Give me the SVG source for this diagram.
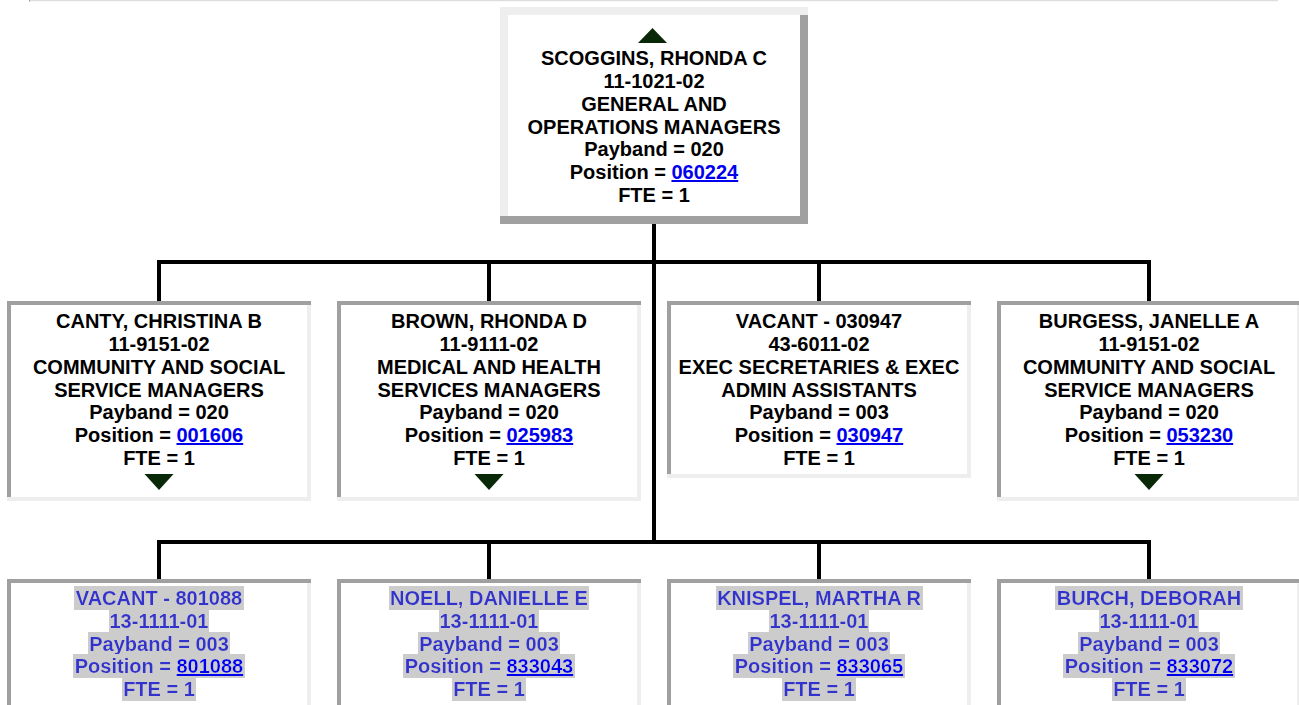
<svg xmlns="http://www.w3.org/2000/svg" width="1299" height="705" viewBox="0 0 1299 705">
<style>
text{font-family:"Liberation Sans",Arial,sans-serif;font-weight:bold;font-size:20px;text-anchor:middle;fill:#000}
.lk{fill:#0000ee;text-decoration:underline}
.sub text{fill:#3333cc}
.sub text .lk{fill:#0000ee}
.dk{fill:#a0a0a0}
.lt{fill:#eeeeee}
.tri{fill:#082808}
.conn{stroke:#000;stroke-width:4;fill:none}
</style>
<defs>
<filter id="hl" x="-0.005" y="-0.02" width="1.01" height="1.04">
<feFlood flood-color="#cccccc"/>
<feMerge><feMergeNode/><feMergeNode in="SourceGraphic"/></feMerge>
</filter>
</defs>
<rect width="1299" height="705" fill="#fff"/>
<rect x="29" y="0" width="1249" height="1.2" fill="#dddddd"/>
<rect x="29" y="0" width="1" height="1.5" fill="#999"/>

<g id="connectors" class="conn">
<line x1="654" y1="224" x2="654" y2="544"/>
<line x1="157" y1="262" x2="1151" y2="262"/>
<line x1="159" y1="262" x2="159" y2="301"/>
<line x1="489" y1="262" x2="489" y2="301"/>
<line x1="819" y1="262" x2="819" y2="301"/>
<line x1="1149" y1="262" x2="1149" y2="301"/>
<line x1="157" y1="542" x2="1151" y2="542"/>
<line x1="159" y1="542" x2="159" y2="579"/>
<line x1="489" y1="542" x2="489" y2="579"/>
<line x1="819" y1="542" x2="819" y2="579"/>
<line x1="1149" y1="542" x2="1149" y2="579"/>
</g>

<g id="node-scoggins">
<rect class="lt" x="500" y="7" width="308" height="217"/>
<rect class="dk" x="800" y="15" width="8" height="209"/>
<rect class="dk" x="500" y="216" width="308" height="8"/>
<rect fill="#fff" x="508" y="15" width="292" height="201"/>
<polygon class="tri" points="638,43 667,43 652.5,28"/>
<text x="654" y="65">SCOGGINS, RHONDA C</text>
<text x="654" y="88">11-1021-02</text>
<text x="654" y="111">GENERAL AND</text>
<text x="654" y="134">OPERATIONS MANAGERS</text>
<text x="654" y="156">Payband = 020</text>
<text x="654" y="179">Position = <tspan class="lk">060224</tspan></text>
<text x="654" y="202">FTE = 1</text>
</g>

<g id="node-canty">
<rect fill="#fff" x="7" y="301" width="304" height="200"/>
<rect class="dk" x="7" y="301" width="304" height="4"/>
<rect class="dk" x="7" y="301" width="4" height="196"/>
<rect class="lt" x="307" y="305" width="4" height="196"/>
<rect class="lt" x="7" y="497" width="304" height="4"/>
<text x="159" y="328">CANTY, CHRISTINA B</text>
<text x="159" y="351">11-9151-02</text>
<text x="159" y="374">COMMUNITY AND SOCIAL</text>
<text x="159" y="397">SERVICE MANAGERS</text>
<text x="159" y="419">Payband = 020</text>
<text x="159" y="442">Position = <tspan class="lk">001606</tspan></text>
<text x="159" y="465">FTE = 1</text>
<polygon class="tri" points="144.5,474 173.5,474 159,490"/>
</g>

<g id="node-brown">
<rect fill="#fff" x="337" y="301" width="304" height="200"/>
<rect class="dk" x="337" y="301" width="304" height="4"/>
<rect class="dk" x="337" y="301" width="4" height="196"/>
<rect class="lt" x="637" y="305" width="4" height="196"/>
<rect class="lt" x="337" y="497" width="304" height="4"/>
<text x="489" y="328">BROWN, RHONDA D</text>
<text x="489" y="351">11-9111-02</text>
<text x="489" y="374">MEDICAL AND HEALTH</text>
<text x="489" y="397">SERVICES MANAGERS</text>
<text x="489" y="419">Payband = 020</text>
<text x="489" y="442">Position = <tspan class="lk">025983</tspan></text>
<text x="489" y="465">FTE = 1</text>
<polygon class="tri" points="474.5,474 503.5,474 489,490"/>
</g>

<g id="node-vacant-030947">
<rect fill="#fff" x="667" y="301" width="304" height="177"/>
<rect class="dk" x="667" y="301" width="304" height="4"/>
<rect class="dk" x="667" y="301" width="4" height="173"/>
<rect class="lt" x="967" y="305" width="4" height="173"/>
<rect class="lt" x="667" y="474" width="304" height="4"/>
<text x="819" y="328">VACANT - 030947</text>
<text x="819" y="351">43-6011-02</text>
<text x="819" y="374">EXEC SECRETARIES &amp; EXEC</text>
<text x="819" y="397">ADMIN ASSISTANTS</text>
<text x="819" y="419">Payband = 003</text>
<text x="819" y="442">Position = <tspan class="lk">030947</tspan></text>
<text x="819" y="465">FTE = 1</text>
</g>

<g id="node-burgess">
<rect fill="#fff" x="997" y="301" width="304" height="200"/>
<rect class="dk" x="997" y="301" width="304" height="4"/>
<rect class="dk" x="997" y="301" width="4" height="196"/>
<rect class="lt" x="1297" y="305" width="4" height="196"/>
<rect class="lt" x="997" y="497" width="304" height="4"/>
<text x="1149" y="328">BURGESS, JANELLE A</text>
<text x="1149" y="351">11-9151-02</text>
<text x="1149" y="374">COMMUNITY AND SOCIAL</text>
<text x="1149" y="397">SERVICE MANAGERS</text>
<text x="1149" y="419">Payband = 020</text>
<text x="1149" y="442">Position = <tspan class="lk">053230</tspan></text>
<text x="1149" y="465">FTE = 1</text>
<polygon class="tri" points="1134.5,474 1163.5,474 1149,490"/>
</g>

<g id="node-vacant-801088" class="sub">
<rect fill="#fff" x="7" y="579" width="304" height="130"/>
<rect class="dk" x="7" y="579" width="304" height="4"/>
<rect class="dk" x="7" y="579" width="4" height="130"/>
<rect class="lt" x="307" y="583" width="4" height="126"/>
<text x="159" y="605" filter="url(#hl)">VACANT - 801088</text>
<text x="159" y="628" filter="url(#hl)">13-1111-01</text>
<text x="159" y="651" filter="url(#hl)">Payband = 003</text>
<text x="159" y="673" filter="url(#hl)">Position = <tspan class="lk">801088</tspan></text>
<text x="159" y="696" filter="url(#hl)">FTE = 1</text>
</g>

<g id="node-noell" class="sub">
<rect fill="#fff" x="337" y="579" width="304" height="130"/>
<rect class="dk" x="337" y="579" width="304" height="4"/>
<rect class="dk" x="337" y="579" width="4" height="130"/>
<rect class="lt" x="637" y="583" width="4" height="126"/>
<text x="489" y="605" filter="url(#hl)">NOELL, DANIELLE E</text>
<text x="489" y="628" filter="url(#hl)">13-1111-01</text>
<text x="489" y="651" filter="url(#hl)">Payband = 003</text>
<text x="489" y="673" filter="url(#hl)">Position = <tspan class="lk">833043</tspan></text>
<text x="489" y="696" filter="url(#hl)">FTE = 1</text>
</g>

<g id="node-knispel" class="sub">
<rect fill="#fff" x="667" y="579" width="304" height="130"/>
<rect class="dk" x="667" y="579" width="304" height="4"/>
<rect class="dk" x="667" y="579" width="4" height="130"/>
<rect class="lt" x="967" y="583" width="4" height="126"/>
<text x="819" y="605" filter="url(#hl)">KNISPEL, MARTHA R</text>
<text x="819" y="628" filter="url(#hl)">13-1111-01</text>
<text x="819" y="651" filter="url(#hl)">Payband = 003</text>
<text x="819" y="673" filter="url(#hl)">Position = <tspan class="lk">833065</tspan></text>
<text x="819" y="696" filter="url(#hl)">FTE = 1</text>
</g>

<g id="node-burch" class="sub">
<rect fill="#fff" x="997" y="579" width="304" height="130"/>
<rect class="dk" x="997" y="579" width="304" height="4"/>
<rect class="dk" x="997" y="579" width="4" height="130"/>
<rect class="lt" x="1297" y="583" width="4" height="126"/>
<text x="1149" y="605" filter="url(#hl)">BURCH, DEBORAH</text>
<text x="1149" y="628" filter="url(#hl)">13-1111-01</text>
<text x="1149" y="651" filter="url(#hl)">Payband = 003</text>
<text x="1149" y="673" filter="url(#hl)">Position = <tspan class="lk">833072</tspan></text>
<text x="1149" y="696" filter="url(#hl)">FTE = 1</text>
</g>
</svg>
